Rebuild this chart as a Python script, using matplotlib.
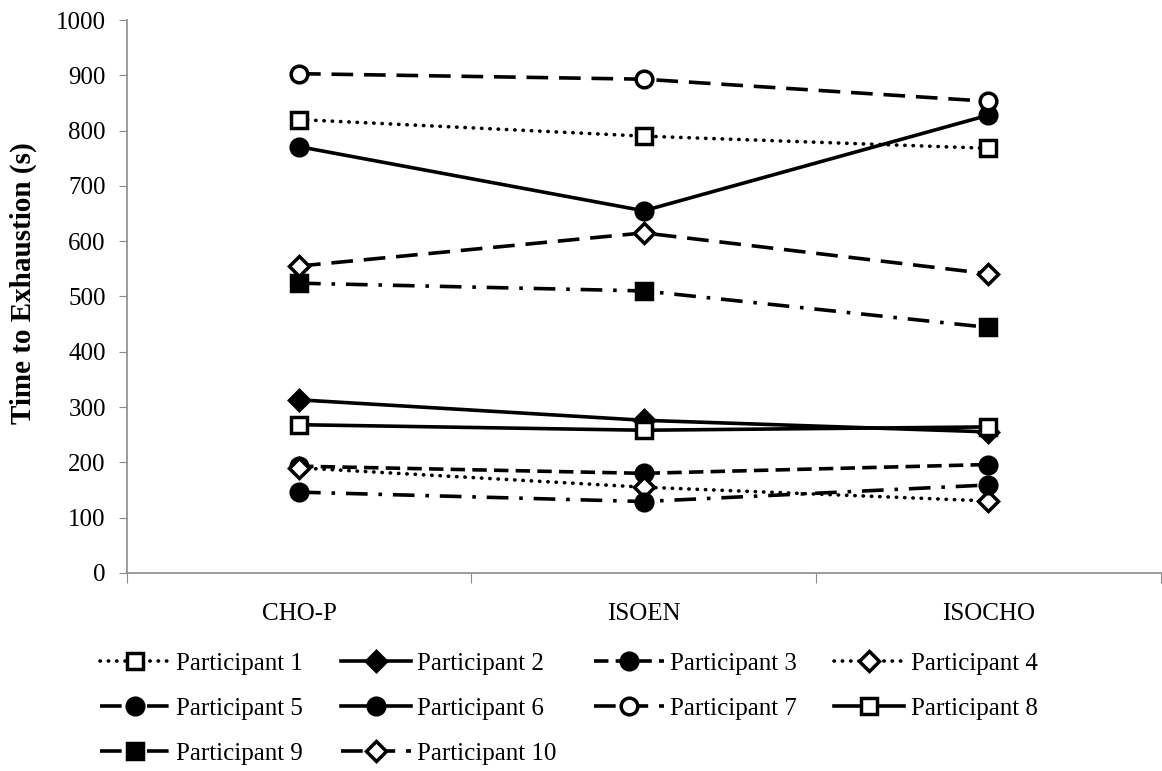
import matplotlib.pyplot as plt
from matplotlib.ticker import FixedLocator, NullFormatter

plt.rcParams['font.family'] = ['Liberation Serif', 'DejaVu Serif']

condiciones = ['CHO-P', 'ISOEN', 'ISOCHO']

p1 = [820, 790, 768]
p2 = [313, 276, 255]
p3 = [193, 180, 196]
p4 = [190, 155, 130]
p5 = [146, 129, 159]
p6 = [771, 655, 828]
p7 = [903, 893, 853]
p8 = [268, 258, 264]
p9 = [524, 510, 444]
p10 = [555, 615, 541]

punteado = (0, (0.1, 2.2))
guiones = (0, (6, 3))
guiones_cortos = (0, (4, 2))
guion_punto = (0, (6, 3, 1, 3))

# estilo de cada participante: (nombre, datos, linea, marcador, relleno)
series = [
    ('Participant 1', p1, punteado, 's', 'white'),
    ('Participant 2', p2, '-', 'D', 'black'),
    ('Participant 3', p3, guiones_cortos, 'o', 'black'),
    ('Participant 4', p4, punteado, 'D', 'white'),
    ('Participant 5', p5, guion_punto, 'o', 'black'),
    ('Participant 6', p6, '-', 'o', 'black'),
    ('Participant 7', p7, guiones, 'o', 'white'),
    ('Participant 8', p8, '-', 's', 'white'),
    ('Participant 9', p9, guion_punto, 's', 'black'),
    ('Participant 10', p10, guiones, 'D', 'white'),
]

fig = plt.figure(figsize=(11.62, 7.71), dpi=100)
ax = fig.add_axes([0.109, 0.257, 0.89, 0.717])

x = list(range(len(condiciones)))
handles = []
for nombre, datos, estilo, marca, relleno in series:
    ms = 10 if marca == 'D' else 12
    h, = ax.plot(x, datos, linestyle=estilo, color='black', linewidth=2.6,
                 marker=marca, markersize=ms, markerfacecolor=relleno,
                 markeredgecolor='black', markeredgewidth=2.5, label=nombre,
                 dash_capstyle='round' if estilo == punteado else 'butt')
    handles.append(h)

ax.set_xlim(-0.5, 2.5)
ax.set_ylim(0, 1000)
ax.set_yticks(range(0, 1001, 100))
ax.xaxis.set_major_locator(FixedLocator([-0.5, 0.5, 1.5, 2.5]))
ax.xaxis.set_major_formatter(NullFormatter())
ax.xaxis.set_minor_locator(FixedLocator(x))
ax.set_xticklabels(condiciones, minor=True)
ax.tick_params(axis='x', which='minor', length=0, pad=22, labelsize=18)
ax.tick_params(axis='x', which='major', length=7, color='#8c8c8c', direction='out')
ax.tick_params(axis='y', length=6, color='#8c8c8c', labelsize=18, pad=9)

for lado in ['top', 'right']:
    ax.spines[lado].set_visible(False)
for lado in ['left', 'bottom']:
    ax.spines[lado].set_color('#8c8c8c')
    ax.spines[lado].set_linewidth(1.2)

ax.set_ylabel('Time to Exhaustion (s)', fontsize=21, fontweight='bold')
ax.yaxis.set_label_coords(-0.087, 0.525)

orden = [0, 4, 8, 1, 5, 9, 2, 6, 3, 7]
fig.legend([handles[i] for i in orden], [series[i][0] for i in orden],
           loc='upper left', bbox_to_anchor=(0.086, 0.154), ncol=4, frameon=False,
           fontsize=18, handlelength=2.8, handletextpad=0.25, columnspacing=1.5,
           labelspacing=0.9, borderpad=0, borderaxespad=0)

fig.savefig('out.png', dpi=100)
